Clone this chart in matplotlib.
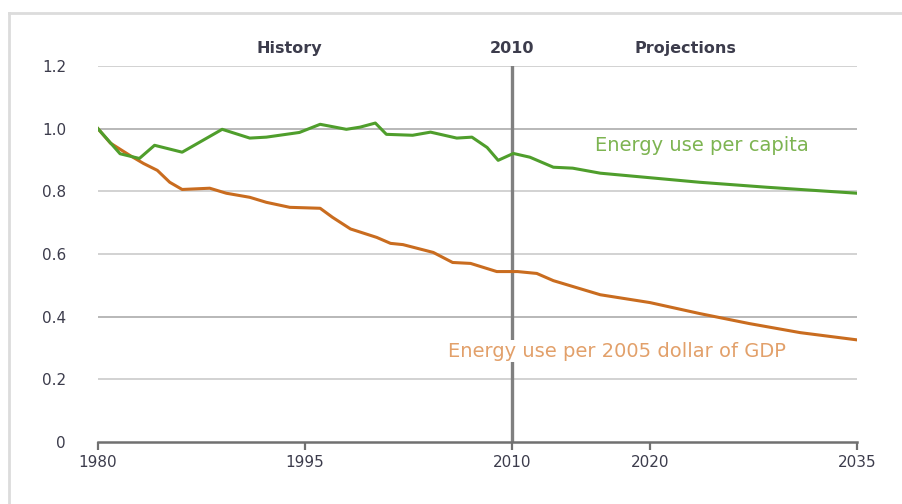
import numpy as np
import matplotlib.pyplot as plt
from matplotlib.lines import Line2D

# energy use per capita (index, 1980 = 1.0)
green_years = [1980, 1981.6, 1983, 1984.1, 1986.1, 1989, 1991, 1992.2, 1994.6, 1996.1, 1998, 1999,
               2000.1, 2000.9, 2002.8, 2004.1, 2006, 2007.1, 2008.2, 2009, 2010.1, 2011.3, 2013,
               2014.4, 2016.4, 2023.6, 2028.5, 2035]
green_vals = [1.0, 0.92, 0.905, 0.947, 0.925, 0.998, 0.97, 0.973, 0.988, 1.014, 0.998, 1.005,
              1.018, 0.982, 0.979, 0.989, 0.97, 0.973, 0.94, 0.899, 0.921, 0.909, 0.877,
              0.874, 0.858, 0.829, 0.813, 0.794]

# energy use per 2005 dollar of GDP
orange_years = [1980, 1980.9, 1982.3, 1983.3, 1984.3, 1985.2, 1986.1, 1988.1, 1989.3, 1991, 1992.2,
                1993.9, 1996.1, 1997, 1998.3, 2000.2, 2001.2, 2002.1, 2004.3, 2005.7, 2007, 2008.9,
                2010.4, 2011.8, 2013, 2016.4, 2020, 2023.6, 2027.2, 2030.9, 2035]
orange_vals = [1.0, 0.954, 0.915, 0.889, 0.867, 0.829, 0.806, 0.81, 0.794, 0.781, 0.765,
               0.749, 0.746, 0.717, 0.68, 0.653, 0.634, 0.63, 0.605, 0.573, 0.57, 0.544,
               0.544, 0.538, 0.515, 0.47, 0.445, 0.41, 0.378, 0.349, 0.326]

xticks = [1980, 1995, 2010, 2020, 2035]
yticks = [0, 0.2, 0.4, 0.6, 0.8, 1.0, 1.2]
ylabels = ['0', '0.2', '0.4', '0.6', '0.8', '1.0', '1.2']

green = '#4f9e2c'
green_txt = '#7db451'
orange = '#c96c1f'
orange_txt = '#e2a06a'
txt = '#3c3c4c'

fig = plt.figure(figsize=(9.03, 5.04), dpi=100)
ax = fig.add_axes([0.1085, 0.123, 0.8405, 0.746])

for y in yticks[1:]:
    c = '#b8b8b8' if y in (1.0, 0.4) else '#d2d2d2'
    ax.axhline(y, color=c, lw=1.4, zorder=1)

ax.axvline(2010, color='#808080', lw=2.4, zorder=2)

ax.plot(orange_years, orange_vals, color=orange, lw=2.2, zorder=3)
ax.plot(green_years, green_vals, color=green, lw=2.2, zorder=4)

ax.set_xlim(1980, 2035)
ax.set_ylim(0, 1.2)
ax.set_xticks(xticks)
ax.set_xticklabels([str(x) for x in xticks])
ax.set_yticks(yticks)
ax.set_yticklabels(ylabels)

for s in ['top', 'right', 'left']:
    ax.spines[s].set_visible(False)
ax.spines['bottom'].set_color('#707070')
ax.spines['bottom'].set_linewidth(1.8)
ax.tick_params(axis='x', length=6, width=1.6, color='#707070', labelsize=11,
               labelcolor=txt, pad=3)
ax.tick_params(axis='y', length=0, labelsize=11, labelcolor=txt, pad=23)

ax.text(1993.9, 1.255, 'History', ha='center', va='center', fontsize=11.5,
        fontweight='bold', color=txt)
ax.text(2010, 1.255, '2010', ha='center', va='center', fontsize=11.5,
        fontweight='bold', color=txt)
ax.text(2022.6, 1.255, 'Projections', ha='center', va='center', fontsize=11.5,
        fontweight='bold', color=txt)

ax.text(2016.0, 0.947, 'Energy use per capita', ha='left', va='center', fontsize=14,
        color=green_txt, zorder=5)
ax.text(2005.4, 0.29, 'Energy use per 2005 dollar of GDP', ha='left', va='center',
        fontsize=14, color=orange_txt, zorder=5,
        bbox=dict(facecolor='white', edgecolor='none', pad=1))

# light frame around the picture
fig.add_artist(Line2D([9 / 903, 9 / 903], [0, 1 - 13 / 504], color='#dcdcdc', lw=2))
fig.add_artist(Line2D([9 / 903, 1], [1 - 13 / 504, 1 - 13 / 504], color='#dcdcdc', lw=2))

fig.savefig('out.png', dpi=100)
